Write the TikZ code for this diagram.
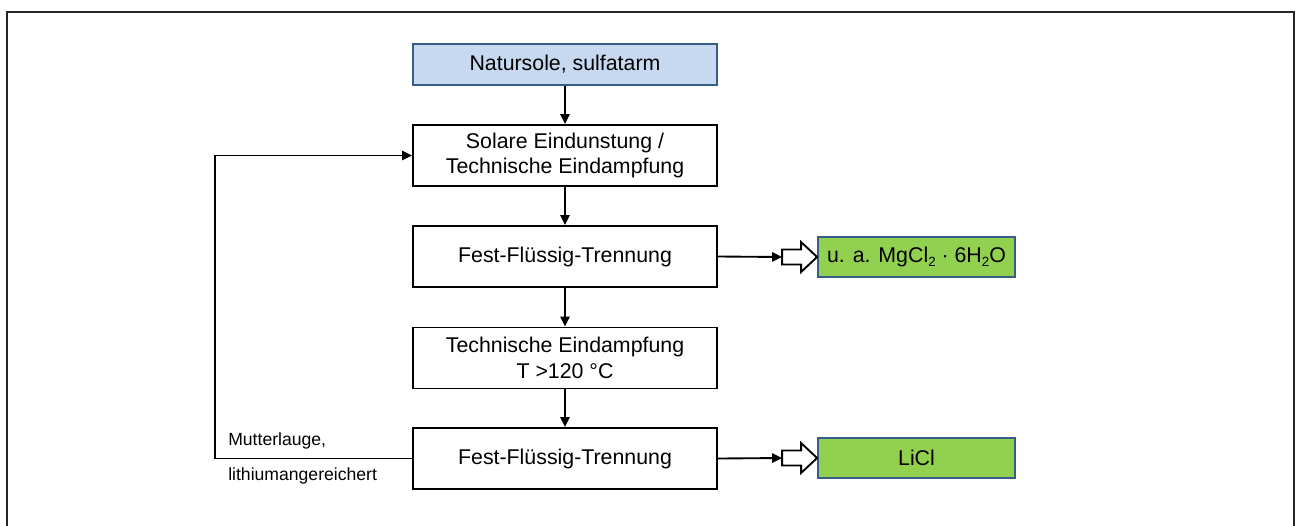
\documentclass[tikz,border=0pt]{standalone}
\usepackage{fontspec}
\setmainfont{Liberation Sans}
\usetikzlibrary{arrows.meta,calc}

\definecolor{solefill}{HTML}{C6D9F1}
\definecolor{prodfill}{HTML}{92D050}
\definecolor{blueedge}{HTML}{385D8A}

% subscript set in the text font
\newcommand{\chemsub}[1]{\raisebox{-0.4ex}{\fontsize{10}{10}\selectfont #1}}

\tikzset{
  stepbox/.style={draw=black, line width=1.4pt, fill=white, inner sep=0pt,
    minimum width=228pt, minimum height=45.75pt, align=center,
    font=\fontsize{16}{19}\selectfont},
  feedbox/.style={stepbox, fill=solefill, draw=blueedge, minimum height=30.75pt},
  prodbox/.style={draw=blueedge, line width=1.4pt, fill=prodfill, inner sep=0pt,
    minimum width=147.75pt, minimum height=30.5pt, align=center,
    font=\fontsize{16}{19}\selectfont},
  flow/.style={line width=1.4pt, -{Triangle[length=7.5pt,width=7pt]}},
  outlet/.style={draw=black, line width=1.4pt, fill=white, line join=miter},
  note/.style={anchor=west, inner sep=0pt, font=\fontsize{13.2}{15}\selectfont}
}

\begin{document}
\begin{tikzpicture}[x=0.75pt, y=-0.75pt]
  \useasboundingbox (0,0) rectangle (1301,525);

  % outer frame
  \draw[line width=1pt, black!85] (7,527) -- (7,12) -- (1294,12) -- (1294,527);

  % process chain
  \node[feedbox] (sole) at (565,64.5) {Natursole, sulfatarm};
  \node[stepbox] (evap) at (565,155.5) {Solare Eindunstung /\\Technische Eindampfung};
  \node[stepbox] (sep1) at (565,256.5) {Fest-Flüssig-Trennung};
  \node[stepbox] (tech) at (565,358) {Technische Eindampfung\\T >120 °C};
  \node[stepbox] (sep2) at (565,458.5) {Fest-Flüssig-Trennung};

  % products
  \node[prodbox] (mgcl) at (916.5,257) {u. a. MgCl\chemsub{2} · 6H\chemsub{2}O};
  \node[prodbox] (licl) at (916.5,458) {LiCl};

  \draw[flow] (sole) -- (evap);
  \draw[flow] (evap) -- (sep1);
  \draw[flow] (sep1) -- (tech);
  \draw[flow] (tech) -- (sep2);

  % recycled mother liquor
  \coordinate (loop) at (215,300);
  \draw[flow] (sep2.west) -| (loop) |- (evap.west);
  \node[note] (ml1) at (228,441) {Mutterlauge,};
  \node[note] (ml2) at (228,476) {lithiumangereichert};

  % outlets with hollow block arrows
  \foreach \src/\dst in {sep1/mgcl, sep2/licl}{
    \coordinate (tail-\dst) at ($(\dst.west)+(-35,0)$);
    \draw[flow] (\src.east) -- (tail-\dst);
    \draw[outlet] (tail-\dst) ++(0,-7.5) -- ++(19,0) -- ++(0,-7.5)
      -- (\dst.west) -- ($(\dst.west)+(-16,15)$) -- ++(0,-7.5) -- ++(-19,0) -- cycle;
  }
\end{tikzpicture}
\end{document}
